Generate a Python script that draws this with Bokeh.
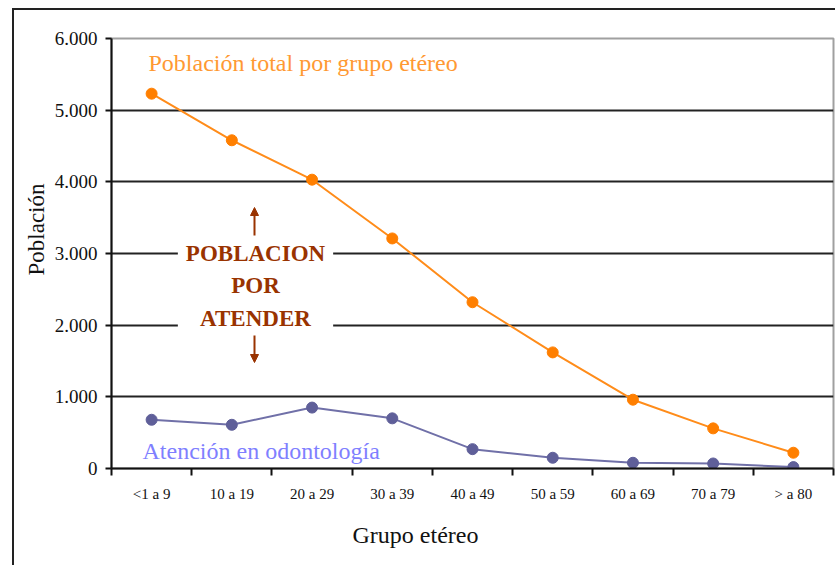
import math
from bokeh.plotting import figure
from bokeh.models import (Range1d, FixedTicker, Label, Arrow, NormalHead, ColumnDataSource, Title)
from bokeh.embed import file_html
from bokeh.resources import INLINE

# ---- data ----
categories = ["<1 a 9", "10 a 19", "20 a 29", "30 a 39", "40 a 49",
              "50 a 59", "60 a 69", "70 a 79", "> a 80"]
poblacion_total = [5230, 4580, 4030, 3210, 2320, 1620, 960, 560, 220]
atencion_odonto = [680, 610, 850, 700, 270, 150, 80, 70, 20]
ytick_values = [0, 1000, 2000, 3000, 4000, 5000, 6000]
ytick_labels = ["0", "1.000", "2.000", "3.000", "4.000", "5.000", "6.000"]

SERIF = "Liberation Serif"

xs = [i + 0.5 for i in range(len(categories))]
src = ColumnDataSource(dict(x=xs, total=poblacion_total, aten=atencion_odonto, cat=categories))

p = figure(width=823, height=557, output_backend="svg", toolbar_location=None,
           x_range=Range1d(0, len(categories)), y_range=Range1d(0, 6000),
           min_border_left=97, min_border_right=4, min_border_top=28, min_border_bottom=99)
p.styles = {"margin-left": "12px", "margin-top": "8px",
            "border-left": "2px solid #222", "border-top": "2px solid #222"}

p.background_fill_color = "white"
p.border_fill_color = "white"
p.outline_line_color = "#a0a0a0"
p.outline_line_width = 2

# grid
p.xgrid.visible = False
p.ygrid.ticker = FixedTicker(ticks=ytick_values[1:-1])
p.ygrid.grid_line_color = "#222222"
p.ygrid.grid_line_width = 2

# y axis
ya = p.yaxis[0]
ya.ticker = FixedTicker(ticks=ytick_values)
ya.major_label_overrides = {v: l for v, l in zip(ytick_values, ytick_labels)}
ya.axis_line_color = "#111111"
ya.axis_line_width = 2
ya.major_tick_out = 6
ya.major_tick_in = 0
ya.major_tick_line_width = 2
ya.major_tick_line_color = "#111111"
ya.minor_tick_line_color = None
ya.major_label_text_font = SERIF
ya.major_label_text_font_size = "19px"
ya.major_label_text_color = "#111111"
ya.major_label_standoff = 8

# x axis
xa = p.xaxis[0]
xa.ticker = FixedTicker(ticks=xs, minor_ticks=list(range(len(categories) + 1)))
xa.major_label_overrides = {x: c for x, c in zip(xs, categories)}
xa.major_tick_line_color = None
xa.major_tick_out = 0
xa.major_tick_in = 0
xa.minor_tick_out = 7
xa.minor_tick_in = 0
xa.minor_tick_line_color = "#111111"
xa.minor_tick_line_width = 2
xa.axis_line_color = "#111111"
xa.axis_line_width = 2
xa.major_label_text_font = SERIF
xa.major_label_text_font_size = "15px"
xa.major_label_text_color = "#111111"
xa.major_label_standoff = 10

# series
p.line("x", "total", source=src, line_color="#ff8c1a", line_width=2)
p.scatter("x", "total", source=src, marker="circle", size=11,
          fill_color="#ff7f00", line_color="#ff7f00")
p.line("x", "aten", source=src, line_color="#7070a8", line_width=2)
p.scatter("x", "aten", source=src, marker="circle", size=11,
          fill_color="#5f5f99", line_color="#5f5f99")

# series labels (screen units relative to the plot frame's bottom-left)
p.add_layout(Label(x=37, y=406, x_units="screen", y_units="screen",
                   text="Población total por grupo etéreo", text_font=SERIF,
                   text_font_size="24px", text_color="#ff9933",
                   text_baseline="middle", text_align="left"))
p.add_layout(Label(x=31, y=18, x_units="screen", y_units="screen",
                   text="Atención en odontología", text_font=SERIF,
                   text_font_size="24px", text_color="#7f7fff",
                   text_baseline="middle", text_align="left"))

# central annotation
p.add_layout(Label(x=144, y=183, x_units="screen", y_units="screen",
                   text="POBLACION\nPOR\nATENDER", text_font=SERIF,
                   text_font_size="23px", text_font_style="bold",
                   text_color="#993300", text_align="center",
                   text_baseline="middle", text_line_height=1.3,
                   background_fill_color="white", padding=8))
p.add_layout(Arrow(x_start=143, y_start=233, x_end=143, y_end=261,
                   start_units="screen", end_units="screen",
                   line_color="#993300", line_width=2,
                   end=NormalHead(size=8, fill_color="#993300", line_color="#993300")))
p.add_layout(Arrow(x_start=143, y_start=133, x_end=143, y_end=106,
                   start_units="screen", end_units="screen",
                   line_color="#993300", line_width=2,
                   end=NormalHead(size=8, fill_color="#993300", line_color="#993300")))

# axis titles
p.add_layout(Title(text="Población", text_font=SERIF, text_font_size="23px",
                   text_font_style="normal", text_color="#111111",
                   align="left", offset=193, standoff=6), "left")
p.add_layout(Title(text="Grupo etéreo", text_font=SERIF, text_font_size="24px",
                   text_font_style="normal", text_color="#111111",
                   align="left", offset=241, standoff=30), "below")

open("out.html", "w").write(file_html(p, INLINE))
